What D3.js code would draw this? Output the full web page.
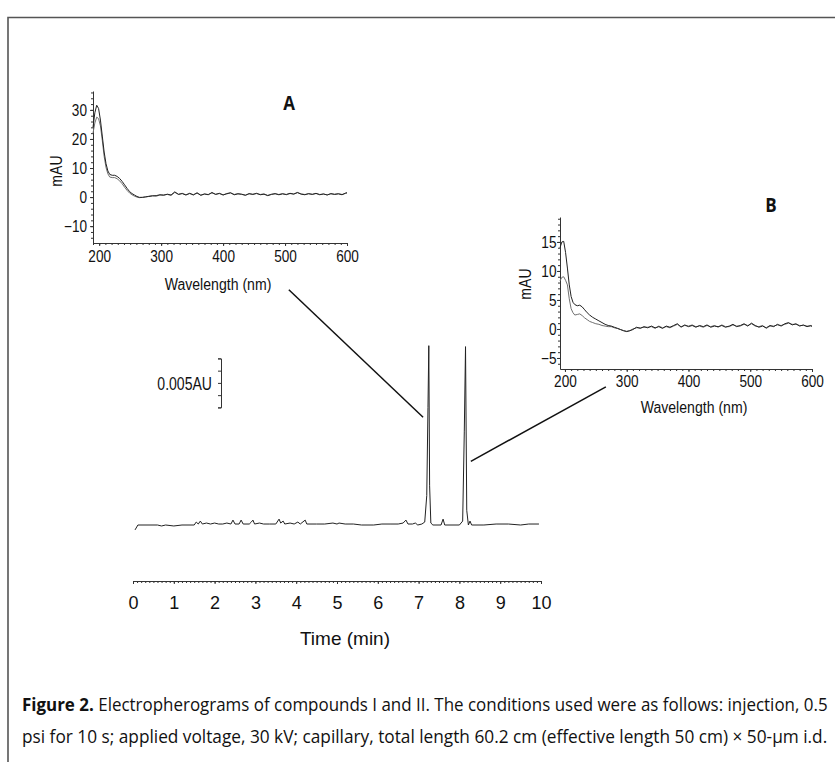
<!DOCTYPE html>
<html lang="en">
<head>
<meta charset="UTF-8" />
<title>Figure 2 - Electropherograms of compounds I and II</title>
<script src="https://d3js.org/d3.v7.min.js"></script>
<style>
  body { margin: 0; background: #fff; }
  svg text { font-family: "Liberation Sans", Arial, sans-serif; fill: #111; }
  .trace { fill: none; stroke: #222; stroke-width: 1; stroke-linejoin: round; }
  .spec-hi { fill: none; stroke: #222; stroke-width: 1; }
  .spec-lo { fill: none; stroke: #707070; stroke-width: 1; }
  .leader { fill: none; stroke: #111; stroke-width: 1.5; }
  .caption { font-family: "Open Sans", "Noto Sans", sans-serif; font-size: 18.5px; }
  .panel-tag { font-family: "Open Sans", "Noto Sans", sans-serif; font-weight: bold; font-size: 20px; }
</style>
</head>
<body>
<svg id="fig" width="835" height="762"></svg>
<script>
// electropherogram, time in min, absorbance in AU
const mainTime = [0.05, 0.12, 0.6, 0.7, 0.8, 1.0, 1.2, 1.5, 1.55, 1.6, 1.65, 1.7, 1.8, 1.9, 2.0, 2.1, 2.2, 2.3, 2.4,
  2.45, 2.5, 2.6, 2.65, 2.7, 2.85, 2.9, 2.94, 2.98, 3.1, 3.2, 3.35, 3.5, 3.58, 3.62, 3.68, 3.72, 3.85, 3.95,
  4.04, 4.1, 4.22, 4.26, 4.5, 4.7, 4.9, 5.0, 5.05, 5.2, 5.4, 5.6, 5.9, 6.1, 6.3, 6.5, 6.62, 6.69, 6.74, 6.85,
  6.92, 6.98, 7.08, 7.15, 7.2, 7.23, 7.25, 7.27, 7.3, 7.35, 7.55, 7.6, 7.64, 8.0, 8.08, 8.12, 8.15, 8.18,
  8.22, 8.26, 8.3, 8.6, 8.9, 9.2, 9.5, 9.7, 9.95];
const mainAU = [-0.0005, 0, 0, -0.0001, 0, -0.0001, 0, 0, 0.0003, 0.0001, 0.0004, 0.0001, 0.0002, 0.0001, 0.0002, 0.0001, 0.0001, 0.0002, 0.0001,
  0.0005, 0.0001, 0.0001, 0.0005, 0.0001, 0.0001, 0.0003, 0.0005, 0.0001, 0.0002, 0.0001, 0.0001, 0.0001, 0.0006, 0.0002, 0.0004, 0.0001, 0.0002, 0.0001,
  0.0003, 0.0001, 0.0005, 0.0001, 0.0001, 0.0001, 0.0002, 0.0001, 0.0002, 0.0001, 0.0001, 0, 0, 0.0001, 0.0001, 0.0001, 0.0002, 0.0005, 0.0001, 0.0001,
  0.0002, 0, 0.0001, 0.0003, 0.003, 0.012, 0.0183, 0.004, 0.0002, 0, 0, 0.0006, 0, 0, 0.0004, 0.0095, 0.0182, 0.0015,
  0, 0.0004, 0, 0, 0.0001, 0.0001, 0, 0.0001, 0.0001];
const timeTicks = [0, 1, 2, 3, 4, 5, 6, 7, 8, 9, 10];
const scaleBarAU = [0.012, 0.017];
const scaleBarLabel = "0.005AU";

// UV spectra: [wavelength nm, upper trace mAU, lower trace mAU]
const spectrumA = [
  [190, 24, 22], [193, 29, 25.5], [196, 31.6, 27.5], [199, 30.5, 27], [202, 26.5, 24.5], [205, 21, 19.5],
  [208, 15.5, 14], [211, 11.5, 10.2], [214, 9, 8], [217, 7.8, 6.9], [221, 7.5, 6.7], [225, 7.5, 6.7],
  [229, 7.1, 6.3], [233, 6.4, 5.6], [237, 5.4, 4.6], [241, 4.2, 3.4], [245, 3.0, 2.3], [249, 1.9, 1.4],
  [253, 1.2, 0.8], [257, 0.7, 0.3], [261, 0.2, 0.0], [265, -0.1, -0.2], [270, -0.1, -0.1], [275, 0.1, 0.0],
  [280, 0.2, 0.3], [286, 0.4, 0.5], [292, 0.5, 0.3], [298, 0.8, 0.7], [304, 0.6, 0.8], [310, 1.0, 0.9],
  [316, 0.7, 0.6], [322, 1.8, 1.6], [328, 0.9, 1.0], [334, 1.2, 1.3], [340, 0.7, 0.8], [346, 1.3, 1.2],
  [352, 0.8, 0.7], [358, 1.4, 1.5], [364, 0.6, 0.7], [370, 1.1, 1.0], [376, 0.8, 0.9], [382, 1.6, 1.4],
  [388, 0.9, 1.0], [394, 1.3, 1.2], [400, 0.7, 0.8], [406, 1.2, 1.1], [412, 1.5, 1.4], [418, 0.8, 0.9],
  [424, 1.1, 1.2], [430, 1.0, 0.9], [436, 0.6, 0.7], [442, 1.2, 1.1], [448, 0.9, 1.0], [454, 1.3, 1.2],
  [460, 0.8, 0.9], [466, 1.0, 1.1], [472, 0.5, 0.6], [478, 0.9, 1.0], [484, 1.2, 1.1], [490, 0.8, 0.9],
  [496, 1.1, 1.2], [502, 0.9, 0.8], [508, 1.3, 1.2], [514, 1.0, 1.1], [520, 1.6, 1.5], [526, 1.0, 1.1],
  [532, 0.8, 0.9], [538, 1.2, 1.1], [544, 0.9, 1.0], [550, 1.3, 1.2], [556, 0.8, 0.9], [562, 1.1, 1.0],
  [568, 0.7, 0.8], [574, 1.2, 1.1], [580, 0.9, 1.0], [586, 1.1, 1.2], [592, 0.8, 0.9], [598, 1.4, 1.3],
  [600, 1.5, 1.4]
];
const spectrumB = [
  [192, 14.0, 8.3], [195, 15.0, 8.9], [198, 15.1, 9.0], [201, 13.2, 8.4], [204, 10.5, 7.6], [207, 7.6, 5.2],
  [210, 5.6, 3.5], [213, 4.6, 2.8], [216, 4.2, 2.4], [220, 4.0, 2.5], [224, 4.1, 2.6], [228, 3.8, 2.3],
  [232, 3.3, 1.9], [236, 2.8, 1.6], [240, 2.4, 1.3], [245, 2.0, 1.1], [250, 1.7, 0.9], [255, 1.4, 0.8],
  [260, 1.1, 0.6], [265, 0.8, 0.5], [270, 0.6, 0.4], [275, 0.5, 0.4], [280, 0.3, 0.2], [285, 0.1, 0.1],
  [290, -0.1, -0.1], [295, -0.3, -0.3], [300, -0.45, -0.4], [305, -0.3, -0.3], [310, -0.1, 0.0],
  [316, 0.3, 0.2], [322, 0.1, 0.2], [328, 0.4, 0.3], [334, 0.2, 0.3], [340, 0.5, 0.4], [346, 0.2, 0.1],
  [352, 0.4, 0.5], [358, 0.1, 0.2], [364, 0.5, 0.4], [370, 0.3, 0.2], [376, 0.6, 0.5], [382, 0.9, 0.8],
  [388, 0.3, 0.4], [394, 0.7, 0.6], [400, 0.4, 0.5], [406, 0.6, 0.7], [412, 0.3, 0.4], [418, 0.6, 0.5],
  [424, 0.4, 0.3], [430, 0.7, 0.6], [436, 0.3, 0.4], [442, 0.5, 0.6], [448, 0.4, 0.3], [454, 0.6, 0.7],
  [460, 0.3, 0.4], [466, 0.5, 0.4], [472, 0.8, 0.7], [478, 0.4, 0.5], [484, 0.6, 0.5], [490, 0.9, 0.8],
  [496, 0.5, 0.6], [502, 1.0, 0.9], [508, 0.6, 0.5], [514, 0.3, 0.4], [520, 0.5, 0.6], [526, 0.2, 0.1],
  [532, 0.6, 0.5], [538, 0.4, 0.5], [544, 0.8, 0.7], [550, 0.5, 0.6], [556, 0.9, 0.8], [562, 1.1, 1.0],
  [568, 0.7, 0.8], [574, 0.9, 0.8], [580, 0.5, 0.6], [586, 0.7, 0.6], [592, 0.4, 0.5], [598, 0.6, 0.5],
  [600, 0.5, 0.4]
];
const nmTicks = [200, 300, 400, 500, 600];
const mAUTicksA = [-10, 0, 10, 20, 30];
const mAUTicksB = [-5, 0, 5, 10, 15];

// leader lines, given in electropherogram units [min, AU]
const leaderA = [[3.82, 0.024], [7.11, 0.011]];
const leaderB = [[8.28, 0.0065], [11.59, 0.0141]];

const captionBold = "Figure 2.";
const captionLine1 = " Electropherograms of compounds I and II. The conditions used were as follows: injection, 0.5";
const captionLine2 = "psi for 10 s; applied voltage, 30 kV; capillary, total length 60.2 cm (effective length 50 cm) \u00d7 50-\u00b5m i.d.";

const svg = d3.select("#fig");
const FONT = '"Liberation Sans", Arial, sans-serif';

// frame
svg.append("path")
  .attr("d", "M8,762V17.5H835")
  .attr("fill", "none")
  .attr("stroke", "#555")
  .attr("stroke-width", 1.6);

function styleAxis(g, size) {
  g.attr("font-size", size).attr("font-family", FONT);
  g.selectAll("path, line").attr("stroke", "#333");
  g.selectAll("text").attr("fill", "#111").style("font-size", size + "px");
}

// the figure's lettering is a bit narrower than the font, squeeze it
function squeeze(sel, k) {
  sel.each(function () {
    const w = this.getComputedTextLength();
    d3.select(this).attr("textLength", w * k).attr("lengthAdjust", "spacingAndGlyphs");
  });
}

// ---- main electropherogram ----
const x = d3.scaleLinear().domain([0, 10]).range([133, 541]);
const y = d3.scaleLinear().domain([0, 0.02]).range([525, 329]);

svg.append("g")
  .attr("transform", "translate(0,581)")
  .call(d3.axisBottom(x).tickValues(d3.range(0, 10.001, 0.1)).tickSize(2).tickSizeOuter(0).tickFormat(""))
  .call(styleAxis, 18);

svg.append("g")
  .attr("transform", "translate(0,581)")
  .call(d3.axisBottom(x).tickValues(timeTicks).tickSize(3).tickSizeOuter(0).tickPadding(12).tickFormat(d3.format("d")))
  .call((g) => g.select(".domain").remove())
  .call(styleAxis, 18);

svg.append("text")
  .attr("x", 345)
  .attr("y", 645)
  .attr("text-anchor", "middle")
  .style("font-size", "19px")
  .text("Time (min)");

const mainLine = d3.line()
  .x((d, i) => x(mainTime[i]))
  .y((d) => y(d));

svg.append("path")
  .datum(mainAU)
  .attr("class", "trace")
  .attr("d", mainLine);

// scale bar
const barScale = y.copy().domain(scaleBarAU).range([y(scaleBarAU[0]), y(scaleBarAU[1])]);
svg.append("g")
  .attr("transform", "translate(221,0)")
  .call(d3.axisLeft(barScale).tickValues([0.012, 0.01325, 0.0145, 0.01575, 0.017]).tickSize(3).tickFormat(""))
  .call(styleAxis, 12);

svg.append("text")
  .attr("x", 212)
  .attr("y", 390)
  .attr("text-anchor", "end")
  .style("font-size", "18px")
  .text(scaleBarLabel)
  .call(squeeze, 0.78);

// leader lines
const leaderLine = d3.line().x((d) => x(d[0])).y((d) => y(d[1]));
svg.append("path").datum(leaderA).attr("class", "leader").attr("d", leaderLine);
svg.append("path").datum(leaderB).attr("class", "leader").attr("d", leaderLine);

// ---- inset spectra ----
function drawInset(opt) {
  const sx = d3.scaleLinear().domain(opt.xDomain).range(opt.xRange);
  const sy = d3.scaleLinear().domain(opt.yDomain).range(opt.yRange);
  const x0 = opt.xRange[0];
  const yBase = opt.yRange[0];

  // y axis: minor then labelled
  svg.append("g")
    .attr("transform", `translate(${x0},0)`)
    .call(d3.axisLeft(sy).tickValues(opt.yMinor).tickSize(2).tickSizeOuter(0).tickFormat(""))
    .call(styleAxis, opt.font);
  svg.append("g")
    .attr("transform", `translate(${x0},0)`)
    .call(d3.axisLeft(sy).tickValues(opt.yTicks).tickSize(3).tickPadding(opt.yPad).tickFormat(d3.format("d")))
    .call((g) => g.select(".domain").remove())
    .call(styleAxis, opt.font)
    .call((g) => g.selectAll("text").call(squeeze, 0.85));

  // x axis
  svg.append("g")
    .attr("transform", `translate(0,${yBase})`)
    .call(d3.axisBottom(sx).tickValues(opt.xMinor).tickSize(2).tickSizeOuter(0).tickFormat(""))
    .call(styleAxis, opt.font);
  svg.append("g")
    .attr("transform", `translate(0,${yBase})`)
    .call(d3.axisBottom(sx).tickValues(nmTicks).tickSize(3).tickPadding(opt.xPad).tickFormat(d3.format("d")))
    .call((g) => g.select(".domain").remove())
    .call(styleAxis, opt.font)
    .call((g) => g.selectAll("text").call(squeeze, 0.85));

  const hi = d3.line().x((d) => sx(d[0])).y((d) => sy(d[1]));
  const lo = d3.line().x((d) => sx(d[0])).y((d) => sy(d[2]));
  svg.append("path").datum(opt.data).attr("class", "spec-lo").attr("d", lo);
  svg.append("path").datum(opt.data).attr("class", "spec-hi").attr("d", hi);

  svg.append("text")
    .attr("x", opt.xTitle[0])
    .attr("y", opt.xTitle[1])
    .attr("text-anchor", "middle")
    .style("font-size", "16px")
    .text("Wavelength (nm)")
    .call(squeeze, 0.88);

  svg.append("text")
    .attr("transform", `translate(${opt.yTitle[0]},${opt.yTitle[1]}) rotate(-90)`)
    .attr("text-anchor", "middle")
    .style("font-size", "16px")
    .text("mAU")
    .call(squeeze, 0.88);

  svg.append("text")
    .attr("class", "panel-tag")
    .attr("x", opt.tag[0])
    .attr("y", opt.tag[1])
    .attr("text-anchor", "middle")
    .text(opt.tagText)
    .call(squeeze, 0.85);
}

drawInset({
  data: spectrumA,
  xDomain: [190, 600], xRange: [93, 347],
  yDomain: [-15.8, 36.5], yRange: [243, 91],
  yTicks: mAUTicksA, yMinor: d3.range(-14, 37, 2),
  xMinor: d3.range(190, 601, 10),
  yPad: 3, xPad: 5, font: 16,
  xTitle: [218, 290], yTitle: [62, 171],
  tag: [289, 110], tagText: "A"
});

drawInset({
  data: spectrumB,
  xDomain: [192, 600], xRange: [560, 812],
  yDomain: [-6.9, 19.3], yRange: [369, 217],
  yTicks: mAUTicksB, yMinor: d3.range(-6, 20, 1),
  xMinor: d3.range(200, 601, 10),
  yPad: 0.5, xPad: 3.5, font: 16,
  xTitle: [694, 413], yTitle: [531, 284],
  tag: [771, 212], tagText: "B"
});

// ---- caption: fitted to the text block width with a horizontal scale ----
function fitLine(sel, left, baseline, width) {
  const w = sel.node().getComputedTextLength();
  sel.attr("transform", `translate(${left},${baseline}) scale(${width / w},1)`);
}

const cap1 = svg.append("text").attr("class", "caption");
cap1.append("tspan").style("font-weight", "bold").text(captionBold);
cap1.append("tspan").text(captionLine1);
fitLine(cap1, 22, 711, 806);

const cap2 = svg.append("text").attr("class", "caption").text(captionLine2);
fitLine(cap2, 22, 743, 806);
</script>
</body>
</html>
